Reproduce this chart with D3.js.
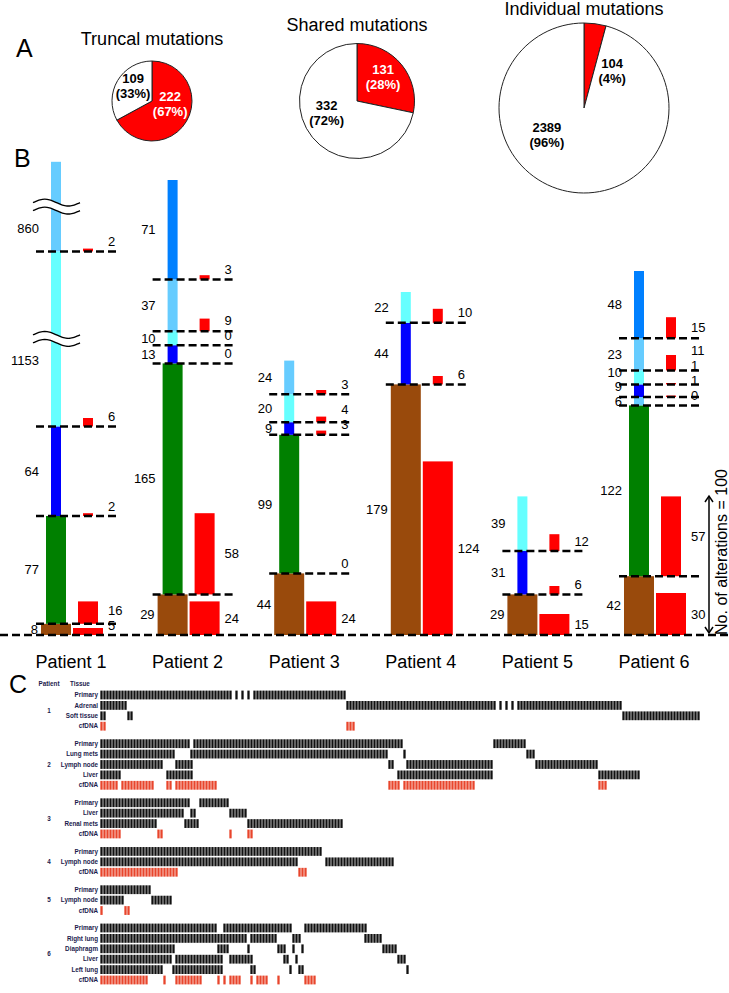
<!DOCTYPE html>
<html><head><meta charset="utf-8">
<script src="https://cdn.jsdelivr.net/npm/d3@7"></script>
<style>
body{margin:0;background:#fff}
svg{display:block}
text{font-family:"Liberation Sans",Arial,Helvetica,sans-serif}
</style>
</head><body>
<svg id="chart" width="729" height="993"></svg>
<script>
// ---------------- Panel A data ----------------
const pieTitles = ["Truncal mutations", "Shared mutations", "Individual mutations"];
const pieRedCounts = [222, 131, 104];
const pieWhiteCounts = [109, 332, 2389];
const pieRedPct = ["(67%)", "(28%)", "(4%)"];
const pieWhitePct = ["(33%)", "(72%)", "(96%)"];

// ---------------- Panel B data ----------------
const patients = ["Patient 1", "Patient 2", "Patient 3", "Patient 4", "Patient 5", "Patient 6"];
const p1Values = [8, 77, 64, 1153, 860];
const p1Red    = [5, 16, 2, 6, 2];
const p1Kinds  = ["trunk", "green", "blue", "cyan", "sky"];
const p2Values = [29, 165, 13, 10, 37, 71];
const p2Red    = [24, 58, 0, 0, 9, 3];
const p2Kinds  = ["trunk", "green", "blue", "cyan", "sky", "azure"];
const p3Values = [44, 99, 9, 20, 24];
const p3Red    = [24, 0, 3, 4, 3];
const p3Kinds  = ["trunk", "green", "blue", "cyan", "sky"];
const p4Values = [179, 44, 22];
const p4Red    = [124, 6, 10];
const p4Kinds  = ["trunk", "blue", "cyan"];
const p5Values = [29, 31, 39];
const p5Red    = [15, 6, 12];
const p5Kinds  = ["trunk", "blue", "cyan"];
const p6Values = [42, 122, 6, 9, 10, 23, 48];
const p6Red    = [30, 57, 0, 1, 1, 11, 15];
const p6Kinds  = ["trunk", "green", "sky", "blue", "cyan", "sky", "azure"];
const scaleBarValue = 100;

// ---------------- Panel C data ----------------
const hmPatientIds = ["1", "2", "3", "4", "5", "6"];
const hmTissues1 = ["Primary", "Adrenal", "Soft tissue", "cfDNA"];
const hmRuns1 = [
  [[0,44],[45,46],[47,48],[49,50],[51,82]],
  [[0,9],[82,132],[133,134],[135,136],[137,138],[139,174]],
  [[0,2],[9,11],[174,200]],
  [[0,2],[82,85]]
];
const hmTissues2 = ["Primary", "Lung mets", "Lymph node", "Liver", "cfDNA"];
const hmRuns2 = [
  [[0,30],[31,101],[131,142]],
  [[0,25],[30,96],[101,102],[142,145]],
  [[0,21],[25,31],[96,98],[102,131],[145,166]],
  [[0,7],[22,31],[99,131],[166,180]],
  [[0,6],[7,18],[22,24],[25,39],[96,100],[101,125],[166,169]]
];
const hmTissues3 = ["Primary", "Liver", "Renal mets", "cfDNA"];
const hmRuns3 = [
  [[0,30],[33,43]],
  [[0,28],[30,32],[43,49]],
  [[0,19],[28,33],[49,81]],
  [[0,7],[19,21],[43,44],[49,51]]
];
const hmTissues4 = ["Primary", "Lymph node", "cfDNA"];
const hmRuns4 = [
  [[0,74]],
  [[0,66],[75,98]],
  [[0,26],[66,69]]
];
const hmTissues5 = ["Primary", "Lymph node", "cfDNA"];
const hmRuns5 = [
  [[0,17]],
  [[0,8],[17,24]],
  [[0,1],[8,10]]
];
const hmTissues6 = ["Primary", "Right lung", "Diaphragm", "Liver", "Left lung", "cfDNA"];
const hmRuns6 = [
  [[0,39],[41,64],[68,89]],
  [[0,49],[50,59],[64,67],[88,94]],
  [[0,25],[39,43],[49,50],[59,62],[64,65],[67,68],[94,99]],
  [[0,24],[25,41],[43,51],[61,63],[65,66],[99,102]],
  [[0,21],[24,41],[50,52],[63,64],[66,68],[102,103]],
  [[0,16],[21,22],[25,34],[39,40],[41,42],[43,47],[50,51],[52,56],[59,60],[68,72]]
];
const hmMaxColumns = 200;

// ================= drawing =================
const svg = d3.select("#chart");
const RED = "#FF0000";

// panel letters
[["A", 16, 57], ["B", 14, 167], ["C", 9, 693]].forEach(([t, x, yy]) => {
  svg.append("text").attr("x", x).attr("y", yy).attr("font-size", 25).attr("fill", "#000").text(t);
});

// ---------- Panel A ----------
const pieGeom = [
  {cx: 152, cy: 101, r: 40, titleY: 45, redLab: [99, 0.46], whiteLab: [308, 0.6], redLabColor: "#fff"},
  {cx: 357, cy: 101, r: 57.5, titleY: 31, redLab: [47, 0.62], whiteLab: [248, 0.57], redLabColor: "#fff"},
  {cx: 584, cy: 108, r: 85, titleY: 15, redLab: [37, 0.55], whiteLab: [234, 0.54], redLabColor: "#000"}
];
const pieGen = d3.pie().sort(null).value(d => d.v);
pieTitles.forEach((title, i) => {
  const g = pieGeom[i];
  const gp = svg.append("g").attr("transform", `translate(${g.cx},${g.cy})`);
  const slices = pieGen([{v: pieRedCounts[i], fill: RED}, {v: pieWhiteCounts[i], fill: "#fff"}]);
  const arc = d3.arc().innerRadius(0).outerRadius(g.r);
  gp.selectAll("path").data(slices).join("path")
    .attr("d", arc).attr("fill", d => d.data.fill)
    .attr("stroke", "#222").attr("stroke-width", 1);
  svg.append("text").attr("x", g.cx).attr("y", g.titleY).attr("text-anchor", "middle")
    .attr("font-size", 18).text(title);
  const labels = [
    {pos: g.redLab, a: pieRedCounts[i], b: pieRedPct[i], fill: g.redLabColor},
    {pos: g.whiteLab, a: pieWhiteCounts[i], b: pieWhitePct[i], fill: "#000"}
  ];
  labels.forEach(l => {
    const ang = l.pos[0] * Math.PI / 180, rr = l.pos[1] * g.r;
    const lx = Math.sin(ang) * rr, ly = -Math.cos(ang) * rr;
    const t = gp.append("text").attr("text-anchor", "middle").attr("font-size", 13)
      .attr("font-weight", "bold").attr("fill", l.fill);
    t.append("tspan").attr("x", lx).attr("y", ly - 3).text(l.a);
    t.append("tspan").attr("x", lx).attr("y", ly + 12).text(l.b);
  });
});

// ---------- Panel B ----------
const kindColor = {trunk: "#994A0C", green: "#008000", blue: "#0000FF", cyan: "#66FFFF", sky: "#66CCFF", azure: "#0080FF"};
const kindWidth = {trunk: 30, green: 20, blue: 10, cyan: 10, sky: 10, azure: 10};
const y = d3.scaleLinear().domain([0, 100]).range([635, 495]);
const xP = d3.scalePoint().domain(patients).range([56, 639]);

// patient 1 uses a broken axis: the two very large segments are drawn compressed
const p1ShownUnits = [8, 77, 64, 125, 64];
const p1Broken = [false, false, false, true, true];
const cumActual = d3.cumsum(p1Values), cumShown = d3.cumsum(p1ShownUnits);
const yBroken = d3.scaleLinear()
  .domain([0, ...cumActual])
  .range([y(0), ...Array.from(cumShown, v => y(v))]);

const series = [
  {values: p1Values, red: p1Red, kinds: p1Kinds, scale: yBroken, broken: p1Broken},
  {values: p2Values, red: p2Red, kinds: p2Kinds, scale: y},
  {values: p3Values, red: p3Red, kinds: p3Kinds, scale: y},
  {values: p4Values, red: p4Red, kinds: p4Kinds, scale: y},
  {values: p5Values, red: p5Red, kinds: p5Kinds, scale: y},
  {values: p6Values, red: p6Red, kinds: p6Kinds, scale: y}
];

const gB = svg.append("g");
const gLines = svg.append("g");
const gText = svg.append("g");
const redOffset = 32;

// keep stacked labels from colliding: walk bottom-up, enforcing a minimum gap
function relax(ys, gap) {
  const out = ys.slice();
  for (let k = 1; k < out.length; k++) out[k] = Math.min(out[k], out[k - 1] - gap);
  return out;
}

series.forEach((s, i) => {
  const cx = xP(patients[i]);
  let cum = 0;
  const segs = s.values.map((v, j) => {
    const lo = cum; cum += v;
    return {v, j, lo, hi: cum, kind: s.kinds[j], red: s.red[j],
      y0: s.scale(lo), y1: s.scale(cum), w: kindWidth[s.kinds[j]],
      broken: s.broken ? s.broken[j] : false};
  });
  // main bars
  gB.selectAll(null).data(segs).join("rect")
    .attr("x", d => cx - d.w / 2).attr("y", d => d.y1)
    .attr("width", d => d.w).attr("height", d => d.y0 - d.y1)
    .attr("fill", d => kindColor[d.kind]);
  // red bars (shared with cfDNA), bottom on the segment's lower boundary
  gB.selectAll(null).data(segs.filter(d => d.red > 0)).join("rect")
    .attr("x", d => cx + redOffset - d.w / 2)
    .attr("y", d => d.y0 - (y(0) - y(d.red)))
    .attr("width", d => d.w).attr("height", d => y(0) - y(d.red))
    .attr("fill", RED);
  // label positions
  const leftY = relax(segs.map(d => (d.y0 + d.y1) / 2 + (d.broken ? 22 : 0)), 14.5);
  const redY = relax(segs.map(d => Math.min(d.y0 - 10, d.y0 - (y(0) - y(d.red)) / 2)), 15);
  segs.forEach((d, k) => { d.ly = leftY[k]; d.ry = redY[k]; });
  // dashed boundary lines
  gLines.selectAll(null).data(segs.filter(d => d.j > 0)).join("line")
    .attr("x1", cx - 20).attr("x2", cx + 60)
    .attr("y1", d => d.y0).attr("y2", d => d.y0)
    .attr("stroke", "#000").attr("stroke-width", 2.5).attr("stroke-dasharray", "8,4");
  // axis-break marks
  segs.filter(d => d.broken).forEach(d => {
    const my = (d.y0 + d.y1) / 2;
    const xs = d3.range(0, 1.0001, 0.05);
    const wave = off => xs.map(t => [cx - 23 + t * 47, my + off - 3.5 * Math.sin(2 * Math.PI * t)]);
    const top = wave(-4), bot = wave(4);
    gLines.append("path")
      .attr("d", d3.line()(top.concat(bot.slice().reverse())) + "Z")
      .attr("fill", "#fff");
    [top, bot].forEach(pts => gLines.append("path").attr("d", d3.line().curve(d3.curveBasis)(pts))
      .attr("fill", "none").attr("stroke", "#000").attr("stroke-width", 1.4));
  });
  // left labels
  gText.selectAll(null).data(segs).join("text")
    .attr("x", d => cx - Math.max(d.w / 2 + 3, 17))
    .attr("y", d => d.ly + 4.5)
    .attr("text-anchor", "end").attr("font-size", 13).text(d => d.v);
  // red labels
  gText.selectAll(null).data(segs).join("text")
    .attr("x", cx + redOffset + 20)
    .attr("y", d => d.ry + 4.5)
    .attr("font-size", 13).text(d => d.red);
  // patient label
  gText.append("text").attr("x", cx + 15).attr("y", 668).attr("text-anchor", "middle")
    .attr("font-size", 18).text(patients[i]);
});

// baseline
gLines.append("line").attr("x1", 0).attr("x2", 729).attr("y1", y(0)).attr("y2", y(0))
  .attr("stroke", "#000").attr("stroke-width", 2.5).attr("stroke-dasharray", "8,4");

// scale arrow
const ax = 709;
gLines.append("line").attr("x1", ax).attr("x2", ax).attr("y1", y(0) - 2).attr("y2", y(scaleBarValue) + 1)
  .attr("stroke", "#000").attr("stroke-width", 1.5);
gLines.append("path").attr("d", `M${ax-4},${y(scaleBarValue)+7} L${ax},${y(scaleBarValue)+1} L${ax+4},${y(scaleBarValue)+7}`)
  .attr("fill", "none").attr("stroke", "#000").attr("stroke-width", 1.5);
gLines.append("path").attr("d", `M${ax-4},${y(0)-8} L${ax},${y(0)-2} L${ax+4},${y(0)-8}`)
  .attr("fill", "none").attr("stroke", "#000").attr("stroke-width", 1.5);
gText.append("text").attr("transform", `translate(727,${(y(0) + y(scaleBarValue)) / 2 - 13}) rotate(-90)`)
  .attr("text-anchor", "middle").attr("font-size", 16).text(`No. of alterations = ${scaleBarValue}`);

// ---------- Panel C ----------
const hmBlocks = [
  {tissues: hmTissues1, runs: hmRuns1}, {tissues: hmTissues2, runs: hmRuns2},
  {tissues: hmTissues3, runs: hmRuns3}, {tissues: hmTissues4, runs: hmRuns4},
  {tissues: hmTissues5, runs: hmRuns5}, {tissues: hmTissues6, runs: hmRuns6}
];
const blockGap = 0.68;
const rows = [];
let slot = 0;
hmBlocks.forEach((b, bi) => {
  b.tissues.forEach((t, ti) => {
    rows.push({patient: hmPatientIds[bi], tissue: t, runs: b.runs[ti], slot, block: bi});
    slot += 1;
  });
  slot += blockGap;
});
const maxSlot = slot - 1 - blockGap;
const ySlot = d3.scaleLinear().domain([0, maxSlot]).range([695, 980]);
const hx = d3.scaleLinear().domain([0, hmMaxColumns]).range([100, 700]);
const unitW = hx(1) - hx(0);
const LABC = "#1b1b4d";

svg.append("text").attr("x", 49).attr("y", 686).attr("text-anchor", "middle").attr("font-size", 6.3)
  .attr("font-weight", "bold").attr("fill", LABC).text("Patient");
svg.append("text").attr("x", 70).attr("y", 686).attr("font-size", 6.3)
  .attr("font-weight", "bold").attr("fill", LABC).text("Tissue");

const gC = svg.append("g");
rows.forEach(r => {
  const cy = ySlot(r.slot);
  const color = r.tissue === "cfDNA" ? "#E8452C" : "#111";
  const units = [];
  r.runs.forEach(([a, b]) => { for (let u = a; u < b; u++) units.push(u); });
  gC.selectAll(null).data(units).join("rect")
    .attr("x", u => hx(u) + 0.35).attr("width", unitW - 0.7)
    .attr("y", cy - 4.4).attr("height", 8.8).attr("fill", color);
  gC.append("text").attr("x", 98).attr("y", cy + 2.2).attr("text-anchor", "end")
    .attr("font-size", 6.3).attr("font-weight", "bold").attr("fill", LABC).text(r.tissue);
});
hmBlocks.forEach((b, bi) => {
  const rs = rows.filter(r => r.block === bi);
  const mid = (ySlot(rs[0].slot) + ySlot(rs[rs.length - 1].slot)) / 2;
  svg.append("text").attr("x", 49).attr("y", mid + 2.2).attr("text-anchor", "middle")
    .attr("font-size", 6.3).attr("font-weight", "bold").attr("fill", LABC).text(hmPatientIds[bi]);
});
</script>
</body></html>
